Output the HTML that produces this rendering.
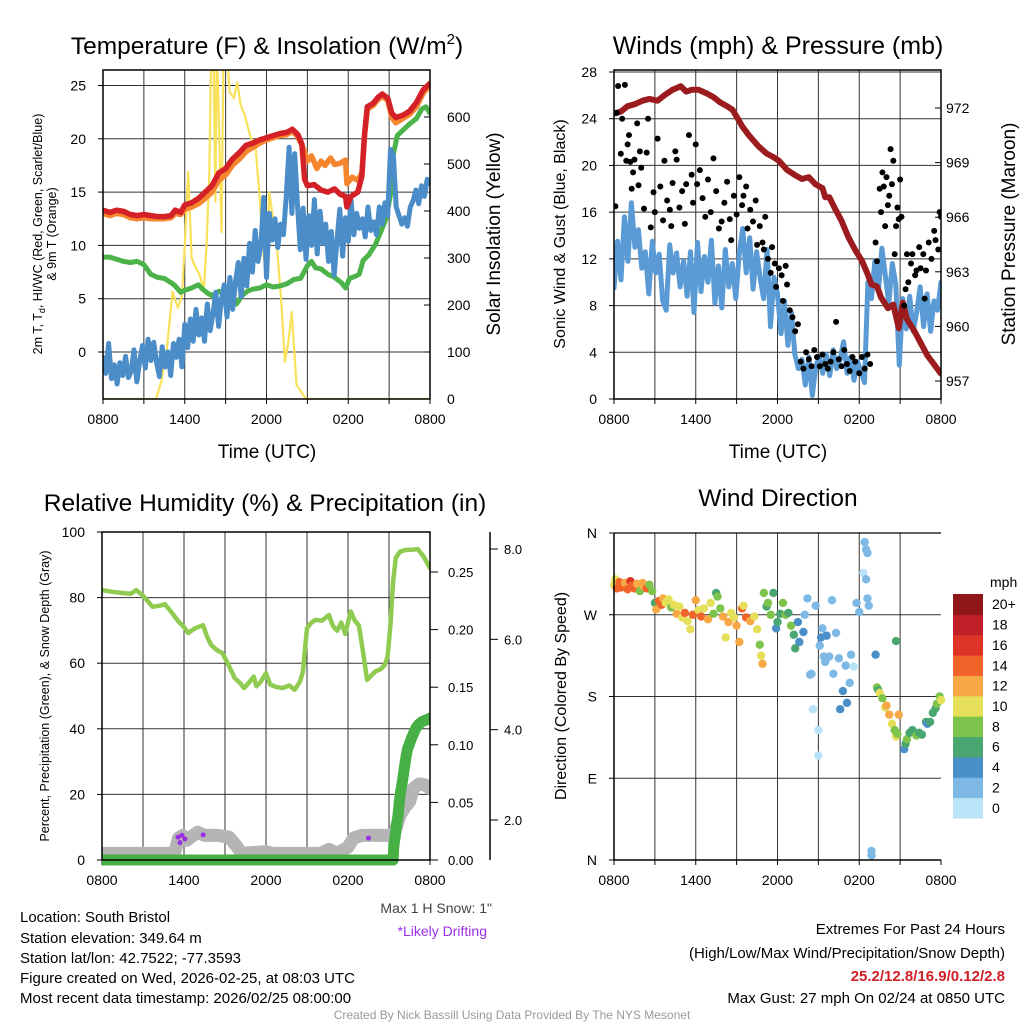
<!DOCTYPE html>
<html><head><meta charset="utf-8"><style>
html,body{margin:0;padding:0;background:#fff}
svg{display:block;font-family:"Liberation Sans",sans-serif}
</style></head><body>
<svg id="svg" width="1024" height="1024" viewBox="0 0 1024 1024" xmlns="http://www.w3.org/2000/svg">
<defs>
<clipPath id="c1"><rect x="103" y="70" width="327" height="329"/></clipPath>
<clipPath id="c2"><rect x="614" y="70" width="327" height="329"/></clipPath>
<clipPath id="c3"><rect x="102" y="532" width="328" height="340"/></clipPath>
</defs>
<!-- titles -->
<text x="267" y="54" font-size="24.5" text-anchor="middle">Temperature (F) &amp; Insolation (W/m<tspan font-size="15" dy="-10">2</tspan><tspan dy="10">)</tspan></text>
<text x="778" y="54" font-size="25" text-anchor="middle">Winds (mph) &amp; Pressure (mb)</text>
<text x="265" y="511" font-size="24.5" text-anchor="middle">Relative Humidity (%) &amp; Precipitation (in)</text>
<text x="778" y="506" font-size="24.5" text-anchor="middle">Wind Direction</text>
<!-- axis titles -->
<text x="267" y="458" font-size="19" text-anchor="middle">Time (UTC)</text>
<text x="778" y="458" font-size="19" text-anchor="middle">Time (UTC)</text>
<text transform="translate(42,234) rotate(-90)" font-size="12.5" text-anchor="middle">2m T, T<tspan font-size="9" dy="3">d</tspan><tspan dy="-3">, HI/WC (Red, Green, Scarlet/Blue)</tspan></text>
<text transform="translate(56,234) rotate(-90)" font-size="12.5" text-anchor="middle">&amp; 9m T (Orange)</text>
<text transform="translate(500,234) rotate(-90)" font-size="19" text-anchor="middle">Solar Insolation (Yellow)</text>
<text transform="translate(565,234) rotate(-90)" font-size="16" text-anchor="middle">Sonic Wind &amp; Gust (Blue, Black)</text>
<text transform="translate(1015,234) rotate(-90)" font-size="19" text-anchor="middle">Station Pressure (Maroon)</text>
<text transform="translate(49,696) rotate(-90)" font-size="12.5" text-anchor="middle">Percent, Precipitation (Green), &amp; Snow Depth (Gray)</text>
<text transform="translate(566,696) rotate(-90)" font-size="16" text-anchor="middle">Direction (Colored By Speed)</text>
<!-- notes -->
<text x="492" y="913" font-size="14" fill="#444" text-anchor="end">Max 1 H Snow: 1"</text>
<text x="487" y="936" font-size="14" fill="#9a2ee6" text-anchor="end">*Likely Drifting</text>
<g font-size="15">
<text x="20" y="922">Location: South Bristol</text>
<text x="20" y="943">Station elevation: 349.64 m</text>
<text x="20" y="963">Station lat/lon: 42.7522; -77.3593</text>
<text x="20" y="983">Figure created on Wed, 2026-02-25, at 08:03 UTC</text>
<text x="20" y="1003">Most recent data timestamp: 2026/02/25 08:00:00</text>
</g>
<g font-size="15" text-anchor="end">
<text x="1005" y="934">Extremes For Past 24 Hours</text>
<text x="1005" y="958">(High/Low/Max Wind/Precipitation/Snow Depth)</text>
<text x="1005" y="981" fill="#d11f26" font-weight="bold">25.2/12.8/16.9/0.12/2.8</text>
<text x="1005" y="1003">Max Gust: 27 mph On 02/24 at 0850 UTC</text>
</g>
<text x="512" y="1019" font-size="12" fill="#999" text-anchor="middle">Created By Nick Bassill Using Data Provided By The NYS Mesonet</text>
</svg>
<script>
// ---------- DATA ----------
const timeTickLabels = ["0800","1400","2000","0200","0800"];
const p1LeftTicks = [0,5,10,15,20,25];
const p1RightTicks = [0,100,200,300,400,500,600];
const temp2m = [[0,13.3],[0.5,13.1],[1,13.3],[1.5,13.2],[2,12.9],[2.5,12.8],[3,12.9],[3.5,12.8],[4,12.7],[4.5,12.7],[5,12.8],[5.3,13.3],[5.7,13.1],[6,13.8],[6.5,14.0],[7,14.4],[7.5,15.0],[8,15.6],[8.5,16.8],[9,17.2],[9.5,18.1],[10,18.7],[10.5,19.4],[11,19.6],[11.5,19.9],[12,20.1],[12.5,20.3],[13,20.5],[13.5,20.6],[13.9,20.9],[14.3,20.4],[14.6,19.5],[14.8,16.2],[15,15.6],[15.5,15.7],[16,15.2],[16.5,15.0],[17,15.3],[17.4,14.8],[17.8,14.6],[17.9,13.6],[18.2,14.6],[18.7,15.0],[19.0,16.5],[19.2,20.5],[19.4,23.0],[19.8,23.3],[20.2,23.9],[20.5,24.2],[20.9,23.8],[21.2,22.4],[21.5,22.0],[22,22.2],[22.5,22.6],[23,23.4],[23.5,24.6],[24,25.2]];
const temp9m = [[0,13.0],[0.5,12.8],[1,13.0],[1.5,12.9],[2,12.6],[2.5,12.5],[3,12.6],[3.5,12.5],[4,12.5],[4.5,12.5],[5,12.6],[5.3,13.0],[5.7,12.9],[6,13.4],[6.5,13.6],[7,13.9],[7.5,14.4],[8,15.0],[8.5,16.1],[9,16.6],[9.5,17.5],[10,18.1],[10.5,18.8],[11,19.2],[11.5,19.6],[12,19.9],[12.5,20.1],[13,20.3],[13.5,20.4],[13.9,20.7],[14.3,20.2],[14.6,19.4],[14.8,18.8],[15,17.9],[15.3,18.4],[15.7,17.2],[16,17.9],[16.3,17.5],[16.7,18.2],[17,17.6],[17.4,17.7],[17.8,18.0],[17.9,15.8],[18.3,16.4],[18.7,16.1],[19.0,16.8],[19.2,20.3],[19.4,22.8],[19.8,23.1],[20.2,23.7],[20.5,24.0],[20.9,23.6],[21.2,22.0],[21.5,21.5],[22,21.9],[22.5,22.3],[23,23.0],[23.5,24.3],[24,25.0]];
const heatIdx = [[0,8.9],[0.5,8.9],[1,8.7],[1.5,8.5],[2,8.4],[2.5,8.5],[3,8.2],[3.5,7.3],[4,7.0],[4.5,6.9],[5,6.5],[5.3,6.2],[5.7,5.6],[6,5.8],[6.5,6.0],[7,6.3],[7.3,5.9],[7.7,5.5],[8,5.3],[8.5,5.7],[9,5.4],[9.5,5.0],[9.8,4.5],[10.2,5.3],[10.6,5.7],[11,5.9],[11.5,6.0],[12,6.3],[12.5,6.1],[13,6.2],[13.5,6.4],[14,6.8],[14.5,6.9],[15,8.1],[15.3,8.5],[15.6,7.9],[16,7.8],[16.5,7.3],[17,7.0],[17.5,6.5],[17.8,6.0],[18.1,6.9],[18.5,7.1],[18.8,7.3],[19.1,8.6],[19.5,9.1],[20,10.1],[20.4,11.3],[20.8,12.6],[21.1,14.8],[21.3,18.5],[21.6,20.3],[22,20.8],[22.5,21.4],[23,21.9],[23.4,22.8],[23.7,23.0],[24,22.4]];
const dewpoint = [-0.5,-2.0,0.8,-2.5,-1.2,-3.0,-1.0,-2.2,-0.4,-2.4,-1.8,0.2,-2.8,-0.9,0.6,-1.5,1.2,-0.8,0.9,-1.0,-2.3,
0.5,-1.4,0.0,-2.2,0.8,-0.5,1.2,-1.4,2.6,0.4,3.1,1.0,4.0,1.6,3.2,1.0,4.5,2.0,3.5,
5.6,2.4,4.9,6.3,3.3,7.0,4.0,6.6,8.4,5.2,8.8,6.2,10.2,7.5,11.4,8.5,10.0,14.5,7.0,
13.0,10.5,12.5,9.8,12.0,11.0,14.5,19.2,13.0,18.6,13.8,9.6,13.5,8.7,12.8,10.0,14.3,9.2,13.2,
10.2,12.0,8.5,11.3,7.2,10.5,13.4,9.0,12.6,10.4,14.2,11.0,13.0,11.6,12.5,10.8,13.6,11.4,12.2,
11.0,13.6,12.0,14.0,12.8,19.0,18.4,13.6,12.8,12.0,12.6,11.8,13.6,14.2,15.2,13.9,15.6,14.6,16.2,15.8];
const solar = [[0,0],[3.9,0],[4.3,40],[4.7,110],[5.1,228],[5.5,194],[5.8,220],[6.0,330],[6.25,483],[6.5,300],[6.8,280],[7.1,264],[7.4,230],[7.6,330],[7.8,477],[7.95,760],[8.1,760],[8.25,420],[8.35,760],[8.5,600],[8.7,355],[8.85,760],[9.05,760],[9.3,653],[9.6,640],[9.85,674],[10.1,626],[10.4,604],[10.8,560],[11.2,534],[11.5,428],[11.8,300],[12.0,257],[12.2,440],[12.5,380],[12.8,313],[13.1,200],[13.35,79],[13.6,120],[13.85,185],[14.2,30],[14.9,0],[24,0]];

const p2LeftTicks = [0,4,8,12,16,20,24,28];
const p2RightTicks = [957,960,963,966,969,972];
const pressure = [[0,971.7],[0.5,971.8],[1,972.1],[1.5,972.2],[2.1,972.4],[2.6,972.5],[3.2,972.4],[3.7,972.7],[4.3,973.0],[4.9,973.2],[5.3,972.9],[5.7,973.0],[6.2,973.0],[6.8,972.8],[7.3,972.6],[7.8,972.3],[8.3,972.1],[8.7,971.9],[9.1,971.4],[9.4,971.0],[9.9,970.5],[10.6,969.9],[11.2,969.5],[11.7,969.3],[12.1,969.1],[12.7,968.6],[13.3,968.3],[13.8,968.1],[14.3,968.2],[14.8,967.8],[15.3,967.6],[15.5,967.1],[15.8,967.1],[16.2,966.5],[16.7,965.8],[17.2,964.9],[17.7,964.2],[18.2,963.6],[18.6,962.9],[18.9,962.3],[19.3,962.2],[19.6,961.6],[20.1,961.0],[20.5,961.2],[20.9,959.9],[21.2,961.3],[21.5,960.4],[22.0,959.8],[22.5,959.1],[23.0,958.4],[23.5,957.9],[24,957.4]];
const windSpeed = [9.5,13.5,10.2,15.6,11.8,16.8,13.0,14.5,11.2,12.6,9.0,13.5,10.8,12.4,8.4,7.6,13.2,
10.8,12.5,9.6,11.8,8.8,12.6,7.4,13.4,9.2,12.2,10.0,13.6,8.2,11.4,7.8,12.8,9.6,11.6,8.6,
12.4,14.6,10.8,13.8,9.4,12.6,10.4,8.6,12.8,6.2,10.4,9.0,5.6,8.4,4.6,
7.4,3.8,2.6,3.4,1.2,3.6,0.3,2.8,3.6,2.2,3.8,2.0,4.2,2.6,3.4,4.9,2.2,
3.6,1.6,3.2,2.4,1.4,10.0,8.6,11.8,9.2,12.9,10.6,8.2,11.6,9.8,
2.9,8.6,6.0,8.8,5.8,7.4,9.6,6.2,9.0,5.8,8.4,7.6,10.0];
const gusts = [[0.1,16.5],[0.2,24.5],[0.3,26.8],[0.5,21],[0.6,24],[0.8,26.9],[0.9,20.4],[1.0,21.8],[1.1,22.6],[1.2,20.3],[1.3,18.0],[1.4,19.4],[1.5,20.5],[1.7,23.6],[1.8,18.3],[1.9,21.2],[2.0,19.8],[2.2,16.3],[2.4,21.1],[2.5,24.0],[2.7,14.7],[2.9,17.7],
[3.0,16.0],[3.2,22.3],[3.4,18.2],[3.6,15.3],[3.7,20.4],[3.9,17.0],[4.1,16.2],[4.2,14.8],[4.3,18.5],[4.5,21.2],[4.6,20.5],[4.8,16.4],[5.0,17.8],[5.2,15.0],[5.3,18.4],[5.5,22.6],[5.7,19.2],[5.8,16.8],[6.0,21.8],[6.1,18.4],[6.3,19.6],[6.5,17.2],[6.7,15.6],[6.9,18.8],[7.1,16.0],[7.3,20.6],[7.5,17.8],[7.7,14.6],[7.9,15.2],[8.1,16.8],[8.3,18.6],[8.5,15.4],[8.6,13.6],[8.8,17.4],[9.0,15.8],[9.2,19.0],[9.4,16.6],[9.5,17.4],[9.7,18.2],[9.8,14.6],[10.0,16.2],[10.2,15.2],[10.4,17.0],[10.5,13.2],[10.7,14.8],[10.9,13.4],[11.0,12.8],[11.1,15.6],[11.3,12.0],[11.5,10.8],[11.6,13.0],[11.8,11.6],[11.9,9.6],[12.1,11.2],[12.3,10.6],[12.4,8.4],[12.6,11.4],[12.7,9.8],[12.9,7.6],[13.1,7.0],[13.3,5.8],[13.5,6.4],[13.7,3.2],[13.9,2.6],[14.1,4.0],[14.3,3.4],[14.5,2.8],[14.7,4.2],[14.9,3.6],[15.1,2.8],[15.3,3.8],[15.5,3.0],[15.7,2.6],[15.9,3.2],[16.1,4.0],[16.3,6.6],[16.5,3.4],[16.7,2.8],[16.9,4.2],[17.1,3.0],[17.3,2.4],[17.5,3.6],[17.7,3.2],[18.0,2.2],[18.2,3.6],[18.4,2.6],[18.6,3.8],[18.8,3.0],
[19.2,13.4],[19.3,11.8],[19.5,18.0],[19.6,16.0],[19.7,19.4],[19.8,18.2],[19.9,14.8],[20.0,19.0],[20.1,16.6],[20.2,17.4],[20.3,21.4],[20.4,18.4],[20.5,20.4],[20.6,12.4],[20.7,14.8],[20.8,16.4],[20.9,15.4],[21.0,18.8],[21.1,15.6],[21.3,8.0],[21.4,9.4],[21.5,12.4],[21.6,10.0],[21.8,11.6],[21.9,12.4],[22.1,10.6],[22.2,11.0],[22.4,13.0],[22.5,11.2],[22.7,12.4],[22.8,8.6],[22.9,11.0],[23.1,13.4],[23.3,12.0],[23.5,14.4],[23.6,13.6],[23.8,12.8],[24.0,15.6],[23.9,16.0]];

const p3LeftTicks = [0,20,40,60,80,100];
const precipTicks = [0,0.05,0.10,0.15,0.20,0.25];
const snowTicks = [2,4,6,8];
const humidity = [[0,82.3],[0.7,81.8],[1.5,81.4],[2.1,81.2],[2.5,82.3],[3.0,80.6],[3.7,77.2],[4.2,77.5],[4.6,78.0],[5.0,76.0],[5.6,72.7],[6.0,71.0],[6.3,69.2],[6.8,70.6],[7.4,71.6],[7.7,68.0],[8.0,65.5],[8.4,64.0],[8.8,63.1],[9.2,60.0],[9.7,55.5],[10.1,54.0],[10.4,52.4],[10.8,54.3],[11.1,55.9],[11.3,53.0],[11.6,54.2],[12.0,57.0],[12.3,53.5],[12.7,52.8],[13.2,52.4],[13.7,53.2],[14.1,51.9],[14.5,54.5],[14.7,57.4],[15.0,70.7],[15.3,72.3],[15.6,73.2],[16.1,73.0],[16.6,74.7],[16.9,71.3],[17.2,69.9],[17.5,72.4],[17.8,68.9],[18.2,75.8],[18.5,73.0],[18.8,71.5],[19.1,63.5],[19.4,54.9],[19.7,56.2],[20.0,57.5],[20.4,58.2],[20.7,59.5],[20.9,62.0],[21.1,71.5],[21.3,85.0],[21.5,92.1],[21.8,94.0],[22.2,94.5],[22.7,94.6],[23.1,94.8],[23.5,92.7],[24,89.0]];
const precip = [[0,0],[0.5,0],[1,0],[1.5,0],[2,0],[2.5,0],[3,0],[3.5,0],[4,0],[4.5,0],[5,0],[5.5,0],[6,0],[6.5,0],[7,0],[7.5,0],[8,0],[8.5,0],[9,0],[9.5,0],[10,0],[10.5,0],[11,0],[11.5,0],[12,0],[12.5,0],[13,0],[13.5,0],[14,0],[14.5,0],[15,0],[15.5,0],[16,0],[16.5,0],[17,0],[17.5,0],[18,0],[18.5,0],[19,0],[19.5,0],[20,0],[20.5,0],[21,0],[21.3,0],[21.35,0.012],[21.45,0.02],[21.55,0.03],[21.65,0.038],[21.75,0.05],[21.85,0.059],[21.95,0.066],[22.05,0.074],[22.15,0.082],[22.25,0.09],[22.35,0.096],[22.5,0.101],[22.65,0.106],[22.8,0.11],[23.0,0.115],[23.2,0.118],[23.4,0.12],[23.6,0.121],[23.8,0.122],[24,0.123]];
const snowDepth = [[0,1.26],[5.3,1.26],[5.6,1.6],[5.9,1.66],[6.2,1.55],[6.5,1.62],[7.0,1.73],[7.5,1.66],[8.5,1.66],[9.3,1.62],[9.8,1.44],[10.2,1.26],[12.0,1.3],[12.5,1.26],[16.0,1.26],[16.6,1.35],[17.2,1.26],[18.0,1.4],[18.4,1.6],[19,1.66],[21,1.66],[21.4,1.7],[21.8,2.1],[22.2,2.3],[22.5,2.4],[22.8,2.7],[23.2,2.8],[23.6,2.78],[24,2.7]];
const drifting = [[5.56,1.62],[5.85,1.66],[6.07,1.58],[5.7,1.5],[7.4,1.67],[19.5,1.6]];

const dirLabels = ["N","E","S","W","N"];
const speedBinLabels = ["0","2","4","6","8","10","12","14","16","18","20+"];
const speedColors = ["#b9e3f7","#7db9e4","#4a8fc7","#4aa670","#7ec34b","#e5df5a","#f7a845","#f0642a","#dd3428","#bf1f26","#8e1719"];
const windDir = [[0.0,303,11],[0.1,309,10],[0.2,299,14],[0.4,306,15],[0.5,300,15],[0.7,303,14],[0.8,305,13],[1.0,298,15],[1.2,307,16],[1.3,302,15],[1.5,299,14],[1.7,304,12],[1.9,296,9],[2.1,305,13],[2.2,301,12],[2.4,299,14],[2.6,303,9],[2.8,296,8],
[3.0,283,7],[3.1,276,13],[3.3,285,15],[3.5,281,14],[3.6,288,12],[3.8,283,10],[4.0,287,10],[4.2,278,9],[4.4,281,10],[4.6,271,13],[4.8,279,10],[5.0,267,11],[5.2,272,15],[5.4,263,11],[5.6,254,10],[5.8,270,14],[6.0,286,12],
[6.2,275,10],[6.4,268,15],[6.6,277,11],[6.9,265,12],[7.1,283,10],[7.3,271,8],[7.5,294,6],[7.6,290,9],[7.8,277,8],[8.0,268,12],[8.2,245,10],[8.4,262,12],[8.6,272,10],[8.8,267,11],[9.0,258,12],[9.2,240,12],[9.4,277,14],[9.5,280,10],[9.7,267,14],[10.0,263,12],[10.3,268,11],[10.5,254,10],[10.7,237,9],[10.8,225,10],[10.9,216,12],
[11.0,294,8],[11.2,279,7],[11.3,283,8],[11.5,270,9],[11.7,294,6],[11.9,255,5],[12.0,262,6],[12.2,271,7],[12.4,283,8],[12.6,270,8],[12.8,272,7],[13.0,258,8],[13.2,248,7],[13.3,233,6],[13.5,262,4],[13.6,240,5],
[13.9,251,4],[14.0,270,3],[14.2,288,3],[14.4,204,2],[14.5,205,3],[14.6,166,1],[14.8,280,3],[15.0,143,1],[15.0,115,1],[15.1,236,3],[15.2,245,4],[15.3,255,3],[15.4,224,2],[15.5,218,3],[15.6,247,4],[15.8,224,2],[16.0,286,2],[16.1,205,2],[16.3,250,3],[16.5,222,2],[16.6,166,4],[16.8,186,4],[17.0,214,3],[17.1,173,4],[17.3,195,2],[17.4,226,3],[17.6,213,1],[17.8,283,2],[18.0,273,2],
[18.4,350,3],[18.5,342,2],[18.6,338,3],[18.3,316,1],[18.5,309,2],[18.6,288,2],[18.7,280,3],[18.9,10,2],[18.9,5,3],[19.2,226,5],
[19.3,190,8],[19.4,187,7],[19.5,184,10],[19.7,178,9],[19.9,168,11],[20.0,170,12],[20.2,160,12],[20.4,150,10],[20.6,143,9],[20.7,136,10],[20.8,139,8],[20.9,160,12],[20.7,241,7],
[21.3,122,5],[21.4,128,6],[21.5,133,8],[21.7,140,7],[21.9,143,6],[22.2,137,8],[22.4,140,7],[22.6,138,7],[22.9,152,6],[23.0,150,4],[23.2,152,7],[23.4,162,7],[23.6,167,6],[23.7,172,8],[23.9,180,8],[24.0,176,10]];

// ---------- HELPERS ----------
const NS = "http://www.w3.org/2000/svg";
const svg = document.getElementById("svg");
function mk(parent, tag, attrs, name) {
  const el = document.createElementNS(NS, tag);
  for (const k in attrs) el.setAttribute(k, attrs[k]);
  
  
  parent.appendChild(el);
  return el;
}
function lin(d0, d1, r0, r1) { return v => r0 + (v - d0) * (r1 - r0) / (d1 - d0); }
function pts(arr, xs, ys) { return arr.map(p => xs(p[0]).toFixed(1) + "," + ys(p[1]).toFixed(1)).join(" "); }

function panelFrame(g, x0, x1, y0, y1, hGridVals, ys, prefix) {
  const xs = lin(0, 24, x0, x1);
  for (let h = 3; h < 24; h += 3) mk(g, "line", {x1: xs(h), x2: xs(h), y1: y0, y2: y1, stroke: "#333", "stroke-width": 1}, prefix + "-vgrid");
  hGridVals.forEach(v => mk(g, "line", {x1: x0, x2: x1, y1: ys(v), y2: ys(v), stroke: "#333", "stroke-width": 1}, prefix + "-hgrid"));
  for (let h = 0; h <= 24; h += 3) mk(g, "line", {x1: xs(h), x2: xs(h), y1: y1, y2: y1 + 5, stroke: "#000", "stroke-width": 1}, prefix + "-x-tick");
  timeTickLabels.forEach((lab, i) => {
    const t = mk(g, "text", {x: xs(i * 6), y: y1 + 25, "font-size": 14, "text-anchor": "middle"}, prefix + "-x-tick-label");
    t.textContent = lab;
  });
  return xs;
}
function border(g, x0, x1, y0, y1, prefix) {
  mk(g, "rect", {x: x0, y: y0, width: x1 - x0, height: y1 - y0, fill: "none", stroke: "#000", "stroke-width": 1.5}, prefix + "-frame");
}

// ---------- PANEL 1 ----------
(function () {
  const g = mk(svg, "g", {}, "temperature-panel");
  const y1 = lin(0, 25, 352, 85.5), y2 = lin(0, 600, 399, 117);
  const xs = panelFrame(g, 103, 430, 70, 399, p1LeftTicks, y1, "p1");
  p1LeftTicks.forEach(v => { const t = mk(g, "text", {x: 86, y: y1(v) + 5, "font-size": 14, "text-anchor": "end"}, "p1-y-tick-label"); t.textContent = v;
    mk(g, "line", {x1: 98, x2: 103, y1: y1(v), y2: y1(v), stroke: "#000"}, "p1-y-tick"); });
  p1RightTicks.forEach(v => { const t = mk(g, "text", {x: 447, y: y2(v) + 5, "font-size": 14}, "p1-y2-tick-label"); t.textContent = v;
    mk(g, "line", {x1: 430, x2: 424, y1: y2(v), y2: y2(v), stroke: "#000"}, "p1-y2-tick"); });
  const c = mk(g, "g", {"clip-path": "url(#c1)", fill: "none", "stroke-linejoin": "round", "stroke-linecap": "round"}, "p1-series");
  mk(c, "polyline", {points: pts(solar, xs, y2), stroke: "#f9e15a", "stroke-width": 2.2}, "solar-line");
  mk(c, "polyline", {points: pts(heatIdx, xs, y1), stroke: "#4cb34a", "stroke-width": 5}, "heat-index-line");
  const dp = dewpoint.map((v, i) => [i * 24 / (dewpoint.length - 1), v]);
  mk(c, "polyline", {points: pts(dp, xs, y1), stroke: "#4a8dc8", "stroke-width": 5}, "dewpoint-line");
  mk(c, "polyline", {points: pts(temp9m, xs, y1), stroke: "#f6862e", "stroke-width": 5.5}, "temp-9m-line");
  mk(c, "polyline", {points: pts(temp2m, xs, y1), stroke: "#d42127", "stroke-width": 5.5}, "temp-2m-line");
  border(g, 103, 430, 70, 399, "p1");
})();

// ---------- PANEL 2 ----------
(function () {
  const g = mk(svg, "g", {}, "winds-panel");
  const y1 = lin(0, 28, 399, 72), y2 = lin(957, 972, 381, 108);
  const xs = panelFrame(g, 614, 941, 70, 399, p2LeftTicks, y1, "p2");
  p2LeftTicks.forEach(v => { const t = mk(g, "text", {x: 597, y: y1(v) + 5, "font-size": 14, "text-anchor": "end"}, "p2-y-tick-label"); t.textContent = v;
    mk(g, "line", {x1: 609, x2: 614, y1: y1(v), y2: y1(v), stroke: "#000"}, "p2-y-tick"); });
  p2RightTicks.forEach(v => { const t = mk(g, "text", {x: 946, y: y2(v) + 5, "font-size": 14}, "p2-y2-tick-label"); t.textContent = v;
    mk(g, "line", {x1: 941, x2: 935, y1: y2(v), y2: y2(v), stroke: "#000"}, "p2-y2-tick"); });
  const c = mk(g, "g", {"clip-path": "url(#c2)", fill: "none", "stroke-linejoin": "round", "stroke-linecap": "round"}, "p2-series");
  const ws = windSpeed.map((v, i) => [i * 24 / (windSpeed.length - 1), v]);
  mk(c, "polyline", {points: pts(ws, xs, y1), stroke: "#5a9bd6", "stroke-width": 5}, "wind-speed-line");
  mk(c, "polyline", {points: pts(pressure, xs, y2), stroke: "#9b1b1e", "stroke-width": 6}, "pressure-line");
  gusts.forEach(p => mk(c, "circle", {cx: xs(p[0]), cy: y1(p[1]), r: 3, fill: "#000"}, "gust-dot"));
  border(g, 614, 941, 70, 399, "p2");
})();

// ---------- PANEL 3 ----------
(function () {
  const g = mk(svg, "g", {}, "humidity-panel");
  const y1 = lin(0, 100, 860, 532), yp = lin(0, 0.25, 860, 572), ysn = lin(2, 8, 820, 549);
  const xs = panelFrame(g, 102, 430, 532, 860, [20, 40, 60, 80], y1, "p3");
  p3LeftTicks.forEach(v => { const t = mk(g, "text", {x: 85, y: y1(v) + 5, "font-size": 14, "text-anchor": "end"}, "p3-y-tick-label"); t.textContent = v;
    mk(g, "line", {x1: 97, x2: 102, y1: y1(v), y2: y1(v), stroke: "#000"}, "p3-y-tick"); });
  precipTicks.forEach(v => { const t = mk(g, "text", {x: 448, y: yp(v) + 5, "font-size": 13}, "precip-tick-label"); t.textContent = v.toFixed(2);
    mk(g, "line", {x1: 430, x2: 438, y1: yp(v), y2: yp(v), stroke: "#000"}, "precip-tick"); });
  mk(g, "line", {x1: 490, x2: 490, y1: 532, y2: 860, stroke: "#000", "stroke-width": 1.5}, "snow-axis-line");
  snowTicks.forEach(v => { const t = mk(g, "text", {x: 504, y: ysn(v) + 5, "font-size": 13}, "snow-tick-label"); t.textContent = v.toFixed(1);
    mk(g, "line", {x1: 490, x2: 498, y1: ysn(v), y2: ysn(v), stroke: "#000"}, "snow-tick"); });
  const c = mk(g, "g", {"clip-path": "url(#c3)", fill: "none", "stroke-linejoin": "round", "stroke-linecap": "round"}, "p3-series");
  mk(c, "polyline", {points: pts(snowDepth, xs, ysn), stroke: "#b5b5b5", "stroke-width": 13}, "snow-depth-line");
  drifting.forEach(p => mk(c, "circle", {cx: xs(p[0]), cy: ysn(p[1]), r: 2.5, fill: "#9a2ee6"}, "drifting-dot"));
  mk(c, "polyline", {points: pts(humidity, xs, y1), stroke: "#8fcb50", "stroke-width": 4.5}, "humidity-line");
  mk(c, "polyline", {points: pts(precip, xs, yp), stroke: "#46b045", "stroke-width": 11}, "precip-line");
  precip.forEach(p => mk(c, "circle", {cx: xs(p[0]), cy: yp(p[1]), r: 5.5, fill: "#46b045"}, "precip-dot"));
  border(g, 102, 430, 532, 860, "p3");
})();

// ---------- PANEL 4 ----------
(function () {
  const g = mk(svg, "g", {}, "wind-direction-panel");
  const yd = lin(0, 360, 860, 533);
  const xs = panelFrame(g, 614, 941, 533, 860, [90, 180, 270], yd, "p4");
  dirLabels.forEach((lab, i) => { const t = mk(g, "text", {x: 597, y: yd(i * 90) + 5, "font-size": 14, "text-anchor": "end"}, "direction-tick-label"); t.textContent = lab;
    mk(g, "line", {x1: 609, x2: 614, y1: yd(i * 90), y2: yd(i * 90), stroke: "#000"}, "direction-tick"); });
  windDir.forEach(p => {
    const bin = Math.min(10, Math.max(0, Math.floor(p[2] / 2)));
    mk(g, "circle", {cx: xs(p[0]), cy: yd(p[1]), r: 4.2, fill: speedColors[bin]}, "wind-direction-dot");
  });
  mk(g, "line", {x1: 614, x2: 941, y1: 533, y2: 533, stroke: "#000", "stroke-width": 1.2}, "p4-top-line");
  mk(g, "line", {x1: 614, x2: 941, y1: 860, y2: 860, stroke: "#000", "stroke-width": 1.5}, "p4-bottom-line");
  mk(g, "line", {x1: 614, x2: 614, y1: 533, y2: 860, stroke: "#000", "stroke-width": 1.5}, "p4-left-line");
  // colorbar
  const cb = mk(svg, "g", {}, "speed-colorbar");
  const t0 = mk(cb, "text", {x: 990, y: 587, "font-size": 14}, "colorbar-unit"); t0.textContent = "mph";
  const bh = 224 / 11;
  for (let i = 0; i < 11; i++) {
    const yy = 594 + (10 - i) * bh;
    mk(cb, "rect", {x: 953, y: yy, width: 30, height: bh + 0.5, fill: speedColors[i]}, "colorbar-band");
    const t = mk(cb, "text", {x: 992, y: yy + bh / 2 + 5, "font-size": 14}, "colorbar-label"); t.textContent = speedBinLabels[i];
  }
})();
</script>
</body></html>
